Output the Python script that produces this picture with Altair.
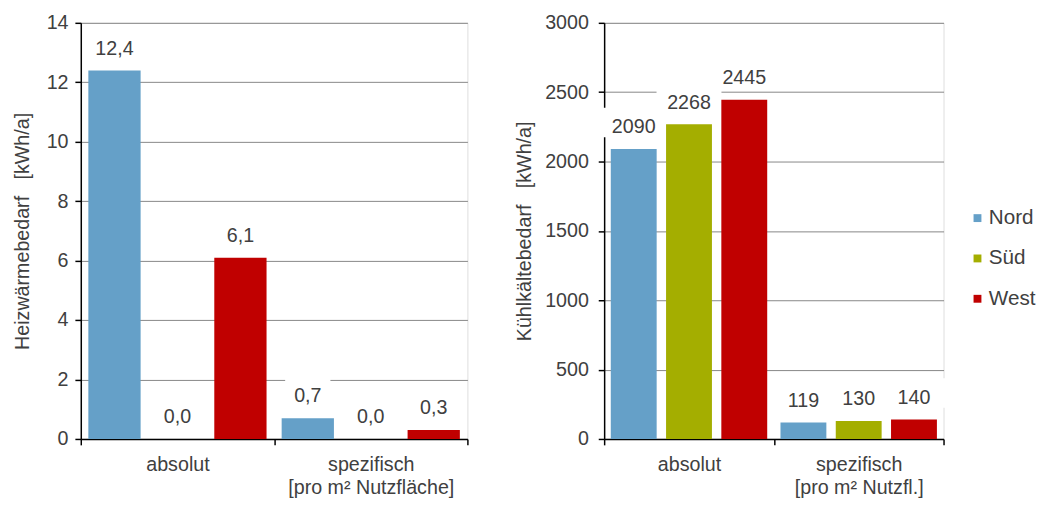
import altair as alt
import pandas as pd

regions = ["Nord", "Süd", "West"]
colors = ["#65a0c8", "#a4ae00", "#c00000"]

heiz_categories = ["absolut", "spezifisch|[pro m² Nutzfläche]"]
heiz_absolut = [12.4, 0.0, 6.1]
heiz_spezifisch = [0.7, 0.0, 0.3]

kuehl_categories = ["absolut", "spezifisch|[pro m² Nutzfl.]"]
kuehl_absolut = [2090, 2268, 2445]
kuehl_spezifisch = [119, 130, 140]

heiz_ticks = [0, 2, 4, 6, 8, 10, 12, 14]
kuehl_ticks = [0, 500, 1000, 1500, 2000, 2500, 3000]

FONT = "Liberation Sans"
TXT = "#404040"
FS = 20


def make_df(cats, a, s, decimals):
    rows = []
    for cat, vals in zip(cats, [a, s]):
        for r, v in zip(regions, vals):
            lab = f"{v:.{decimals}f}".replace(".", ",")
            rows.append({"cat": cat, "region": r, "value": v, "label": lab})
    return pd.DataFrame(rows)


def panel(df, cats, ytitle, ymax, ticks, width, box_w, label_pad, title_pad, legend):
    x = alt.X(
        "cat:N", sort=cats,
        scale=alt.Scale(paddingInner=0, paddingOuter=0),
        axis=alt.Axis(title=None, labelExpr="split(datum.label, '|')", tickBand="extent",
                      domainColor="black", domainWidth=1.5, tickColor="black", tickWidth=1.5,
                      tickSize=6, labelAngle=0, labelPadding=10, labelLineHeight=23,
                      labelFontSize=FS, labelColor=TXT, labelFont=FONT, grid=False),
    )
    xo = alt.XOffset("region:N", sort=regions,
                     scale=alt.Scale(paddingInner=0.17, paddingOuter=0.12))
    y = alt.Y(
        "value:Q",
        scale=alt.Scale(domain=[0, ymax], nice=False),
        axis=alt.Axis(title=ytitle, values=ticks, format="d", grid=True, gridColor="#868686",
                      gridWidth=1, domainColor="black", domainWidth=1.5, tickColor="black",
                      tickWidth=1.5, tickSize=6, labelPadding=label_pad, labelFontSize=FS,
                      labelColor=TXT, labelFont=FONT, titleFont=FONT, titleFontSize=FS,
                      titleFontWeight="normal", titleColor=TXT, titlePadding=title_pad),
    )
    ratio = 30.0 / box_w
    path = f"M-1,-{ratio:.3f}L1,-{ratio:.3f}L1,{ratio:.3f}L-1,{ratio:.3f}Z"
    base = alt.Chart(df).encode(x=x, xOffset=xo, y=y)
    boxes = base.mark_point(shape=path, size=box_w * box_w, filled=True, fill="white",
                            strokeWidth=0, opacity=1, yOffset=-27)
    bars = base.mark_bar().encode(
        color=alt.Color("region:N", scale=alt.Scale(domain=regions, range=colors),
                        legend=legend, title=None)
    )
    text = base.mark_text(dy=-22, baseline="middle", fontSize=FS, color=TXT, font=FONT).encode(
        text="label:N")
    return alt.layer(boxes, bars, text).properties(width=width, height=423)


heiz_df = make_df(heiz_categories, heiz_absolut, heiz_spezifisch, 1)
kuehl_df = make_df(kuehl_categories, kuehl_absolut, kuehl_spezifisch, 0)

left = panel(heiz_df, heiz_categories, "Heizwärmebedarf\u00a0\u00a0\u00a0[kWh/a]", 14, heiz_ticks,
             393, 46, 7, 14, None)
right = panel(kuehl_df, kuehl_categories, "Kühlkältebedarf\u00a0\u00a0\u00a0[kWh/a]", 3000,
              kuehl_ticks, 345, 66, 10, 10,
              alt.Legend(orient="none", legendX=369, legendY=188, padding=0, symbolType="square",
                         symbolSize=64, symbolStrokeWidth=0, labelFontSize=21, labelFont=FONT,
                         labelColor=TXT, labelOffset=1, rowPadding=19))

chart = alt.hconcat(left, right, spacing=46).resolve_scale(
    x="independent", xOffset="independent", color="independent"
).properties(
    padding={"left": 4, "top": 0, "right": 0, "bottom": 0}
).configure_view(stroke=None).configure(font=FONT)

chart.save("out.html", embed_options={"renderer": "svg", "actions": False})
